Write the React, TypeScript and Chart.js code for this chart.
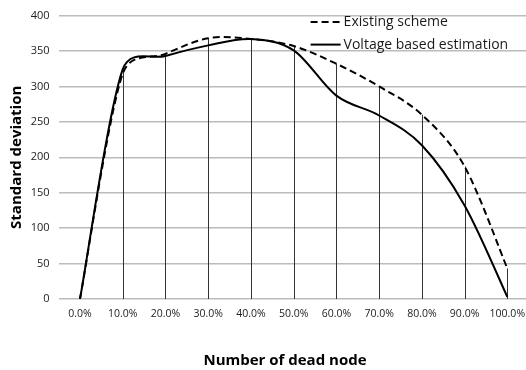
import React, { useEffect, useRef } from 'react';
import { Chart, registerables } from 'chart.js';

Chart.register(...registerables);

// Share of dead nodes along the x axis
const categories = ['0.0%', '10.0%', '20.0%', '30.0%', '40.0%', '50.0%', '60.0%', '70.0%', '80.0%', '90.0%', '100.0%'];

// Standard deviation for each scheme
const existingScheme = [0, 318, 346, 368, 367, 357, 332, 300, 260, 187, 43];
const voltageEstimation = [0, 324, 343, 358, 367, 351, 287, 259, 217, 132, 3];

const seriesNames = ['Existing scheme', 'Voltage based estimation'];
const xAxisTitle = 'Number of dead node';
const yAxisTitle = 'Standard deviation';

const yMin = 0;
const yMax = 400;
const yStep = 50;

const FONT = '"Open Sans", "DejaVu Sans", sans-serif';
const INK = '#000000';

// Spreadsheet-style smoothing: tangent along the neighbours' chord, arm length
// one sixth of that chord but never more than half of the adjacent segment.
const spreadsheetSmoothing = {
  id: 'spreadsheetSmoothing',
  beforeDatasetsDraw(chart: any) {
    chart.data.datasets.forEach((_: any, di: number) => {
      const meta = chart.getDatasetMeta(di);
      const line = meta.dataset;
      line.updateControlPoints(chart.chartArea, meta.iScale.axis);
      const pts = meta.data;
      const n = pts.length;
      for (let i = 0; i < n; i++) {
        const p = pts[i];
        const prev = pts[Math.max(i - 1, 0)];
        const next = pts[Math.min(i + 1, n - 1)];
        const tx = next.x - prev.x;
        const ty = next.y - prev.y;
        const tl = Math.hypot(tx, ty) || 1;
        const ux = tx / tl;
        const uy = ty / tl;
        const dPrev = Math.hypot(p.x - prev.x, p.y - prev.y);
        const dNext = Math.hypot(next.x - p.x, next.y - p.y);
        const armPrev = Math.min(tl / 6, dPrev / 2);
        const armNext = Math.min(tl / 6, dNext / 2);
        p.cp1x = p.x - ux * armPrev;
        p.cp1y = p.y - uy * armPrev;
        p.cp2x = p.x + ux * armNext;
        p.cp2y = p.y + uy * armNext;
      }
    });
  },
};

// Vertical drop lines from the highest point of each category down to the axis
const dropLines = {
  id: 'dropLines',
  beforeDatasetsDraw(chart: any) {
    const { ctx, scales } = chart;
    const x = scales.x;
    const y = scales.y;
    ctx.save();
    ctx.strokeStyle = '#333333';
    ctx.lineWidth = 1;
    categories.forEach((_, i) => {
      const top = Math.max(...chart.data.datasets.map((d: any) => d.data[i]));
      const px = Math.round(x.getPixelForValue(i)) + 0.5;
      ctx.beginPath();
      ctx.moveTo(px, y.getPixelForValue(top));
      ctx.lineTo(px, y.getPixelForValue(0));
      ctx.stroke();
    });
    ctx.restore();
  },
};

// Legend drawn inside the plot, top right
const innerLegend = {
  id: 'innerLegend',
  afterDraw(chart: any) {
    const { ctx, chartArea } = chart;
    const x0 = chartArea.left + 252;
    const rows = [chartArea.top + 6.5, chartArea.top + 29];
    ctx.save();
    chart.data.datasets.forEach((ds: any, i: number) => {
      const yy = rows[i];
      ctx.strokeStyle = ds.borderColor;
      ctx.lineWidth = ds.borderWidth;
      ctx.setLineDash(ds.borderDash || []);
      ctx.beginPath();
      ctx.moveTo(x0, yy);
      ctx.lineTo(x0 + 30, yy);
      ctx.stroke();
      ctx.setLineDash([]);
      ctx.fillStyle = '#1a1a1a';
      ctx.font = `14px ${FONT}`;
      ctx.textAlign = 'left';
      ctx.textBaseline = 'middle';
      ctx.fillText(ds.label, x0 + 33, yy);
    });
    ctx.restore();
  },
};

// Axis titles
const axisTitles = {
  id: 'axisTitles',
  afterDraw(chart: any) {
    const { ctx, chartArea } = chart;
    ctx.save();
    ctx.fillStyle = INK;
    ctx.font = `bold 15px ${FONT}`;
    ctx.textAlign = 'center';
    ctx.textBaseline = 'middle';
    ctx.fillText(xAxisTitle, 285, chartArea.bottom + 62);
    ctx.translate(17, (chartArea.top + chartArea.bottom) / 2);
    ctx.rotate(-Math.PI / 2);
    ctx.fillText(yAxisTitle, 0, 0);
    ctx.restore();
  },
};

export default function App() {
  const canvasRef = useRef<HTMLCanvasElement | null>(null);

  useEffect(() => {
    if (!canvasRef.current) return;
    const chart = new Chart(canvasRef.current, {
      type: 'line',
      data: {
        labels: categories,
        datasets: [
          {
            label: seriesNames[0],
            data: existingScheme,
            borderColor: INK,
            borderWidth: 2,
            borderDash: [7, 4],
            pointRadius: 0,
            tension: 0.4,
            fill: false,
          },
          {
            label: seriesNames[1],
            data: voltageEstimation,
            borderColor: INK,
            borderWidth: 2,
            pointRadius: 0,
            tension: 0.4,
            fill: false,
          },
        ],
      },
      options: {
        animation: false,
        responsive: true,
        maintainAspectRatio: false,
        layout: { padding: { left: 0, right: 7.3, top: 12, bottom: 0 } },
        plugins: {
          legend: { display: false },
          tooltip: { enabled: false },
        },
        scales: {
          x: {
            type: 'category',
            offset: true,
            grid: { display: false, drawTicks: false },
            border: { display: false },
            ticks: {
              color: '#222222',
              font: { family: FONT, size: 10.5 },
              padding: 9,
              maxRotation: 0,
              autoSkip: false,
            },
            afterFit(scale: any) {
              scale.height = 71;
            },
          },
          y: {
            min: yMin,
            max: yMax,
            grid: { color: '#bcbcbc', lineWidth: 1.5, drawTicks: false },
            border: { display: false },
            ticks: {
              stepSize: yStep,
              color: '#222222',
              font: { family: FONT, size: 11 },
              padding: 9,
            },
            afterFit(scale: any) {
              scale.width = 58.6;
            },
          },
        },
      },
      plugins: [spreadsheetSmoothing, dropLines, innerLegend, axisTitles],
    });
    return () => chart.destroy();
  }, []);

  return (
    <div
      style={{
        position: 'fixed',
        left: 0,
        top: 0,
        width: 526,
        height: 370,
        overflow: 'hidden',
        background: '#ffffff',
      }}
    >
      <div style={{ position: 'relative', width: 536, height: 370 }}>
        <canvas ref={canvasRef} />
      </div>
    </div>
  );
}
